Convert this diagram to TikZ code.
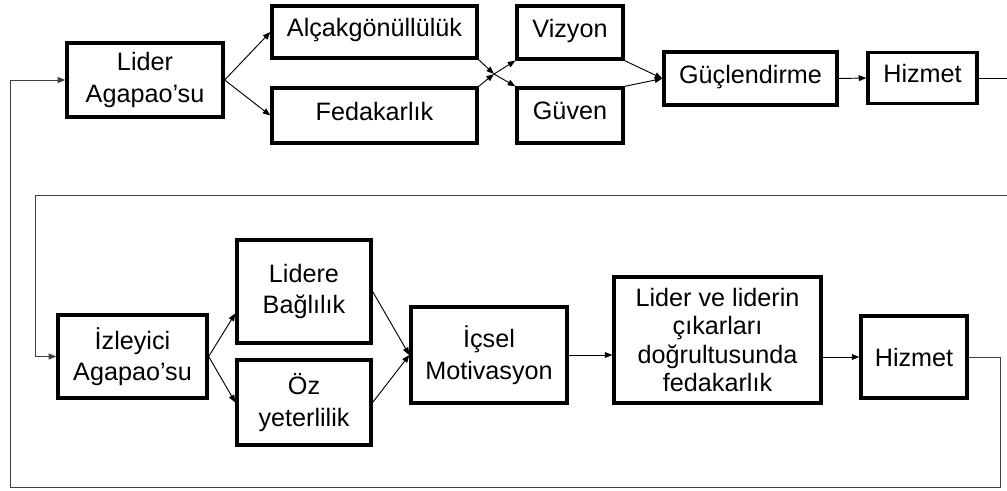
\documentclass[tikz,border=0pt]{standalone}
\usepackage{fontspec}
\setmainfont{Liberation Sans}
\usepackage{tikz}
\usetikzlibrary{arrows.meta}

\tikzset{
  box/.style={draw, line width=2.8pt, rectangle, align=center, inner sep=0pt,
    font=\fontsize{21.5}{27}\selectfont},
  raised/.style={text depth=0.27cm},
  conn/.style={line width=0.8pt, -{Triangle[length=6.5pt,width=5pt]}},
  back/.style={line width=0.8pt, black!75}
}

\begin{document}
\begin{tikzpicture}[x=0.03cm, y=-0.03cm]
\useasboundingbox (0,0) rectangle (1007,490);
\node [box, minimum width=156*0.03cm, minimum height=74*0.03cm] (liderA) at (145,80) {Lider\\Agapao’su};
\node [box, raised, minimum width=205*0.03cm, minimum height=52*0.03cm] (alcak) at (374.5,32) {Alçakgönüllülük};
\node [box, raised, minimum width=205*0.03cm, minimum height=55*0.03cm] (fedak) at (374.5,115.5) {Fedakarlık};
\node [box, raised, minimum width=106*0.03cm, minimum height=53*0.03cm] (vizyon) at (570,32.5) {Vizyon};
\node [box, raised, minimum width=106*0.03cm, minimum height=55*0.03cm] (guven) at (570,115.5) {Güven};
\node [box, raised, minimum width=173*0.03cm, minimum height=53*0.03cm] (gucl) at (750.5,78.5) {Güçlendirme};
\node [box, raised, minimum width=109*0.03cm, minimum height=51*0.03cm] (hizmetA) at (922.5,78) {Hizmet};
\node [box, minimum width=149*0.03cm, minimum height=83*0.03cm] (izleyici) at (132.5,356.5) {İzleyici\\Agapao’su};
\node [box, minimum width=134*0.03cm, minimum height=103*0.03cm] (lidere) at (304,291.5) {Lidere\\Bağlılık};
\node [box, minimum width=134*0.03cm, minimum height=85*0.03cm] (oz) at (304,402.5) {Öz\\yeterlilik};
\node [box, minimum width=156*0.03cm, minimum height=96*0.03cm] (icsel) at (489,355) {İçsel\\Motivasyon};
\node [box, minimum width=207*0.03cm, minimum height=126*0.03cm, font=\fontsize{21.5}{24}\selectfont] (fedakB) at (717.5,340) {Lider ve liderin\\çıkarları\\doğrultusunda\\fedakarlık};
\node [box, minimum width=106*0.03cm, minimum height=82*0.03cm] (hizmetB) at (914,357) {Hizmet};
\coordinate (cross) at (494,74);
\coordinate (edgeA) at (1007,76);
\coordinate (edgeB) at (1007,195);
\coordinate (turnB) at (35,195);
\coordinate (loopR) at (1000,487);
\coordinate (loopL) at (10,487);
\draw [conn] (liderA.east) -- (alcak.west);
\draw [conn] (liderA.east) -- (fedak.west);
\draw [conn] (alcak.south east) -- (cross);
\draw [conn] (fedak.north east) -- (cross);
\draw [conn] (cross) -- (vizyon.south west);
\draw [conn] (cross) -- (guven.north west);
\draw [conn] (vizyon.south east) -- (gucl.west);
\draw [conn] (guven.north east) -- (gucl.west);
\draw [conn] (gucl.east) -- (hizmetA.west);
\draw [line width=0.8pt] (hizmetA.east) -- (hizmetA.east -| edgeA);
\draw [back, -{Triangle[length=6.5pt,width=5pt]}] (edgeB) -- (turnB) |- (izleyici.west);
\draw [conn] (izleyici.east) -- (lidere.west |- izleyici.north);
\draw [conn] (izleyici.east) -- (oz.west);
\draw [conn] (lidere.east) -- (icsel.west);
\draw [conn] (oz.east) -- (icsel.west);
\draw [conn] (icsel.east) -- (icsel.east -| fedakB.west);
\draw [conn] (fedakB.east |- hizmetB.west) -- (hizmetB.west);
\draw [back, -{Triangle[length=6.5pt,width=5pt]}] (hizmetB.east) -| (loopR) -- (loopL) |- (liderA.west);
\end{tikzpicture}
\end{document}
